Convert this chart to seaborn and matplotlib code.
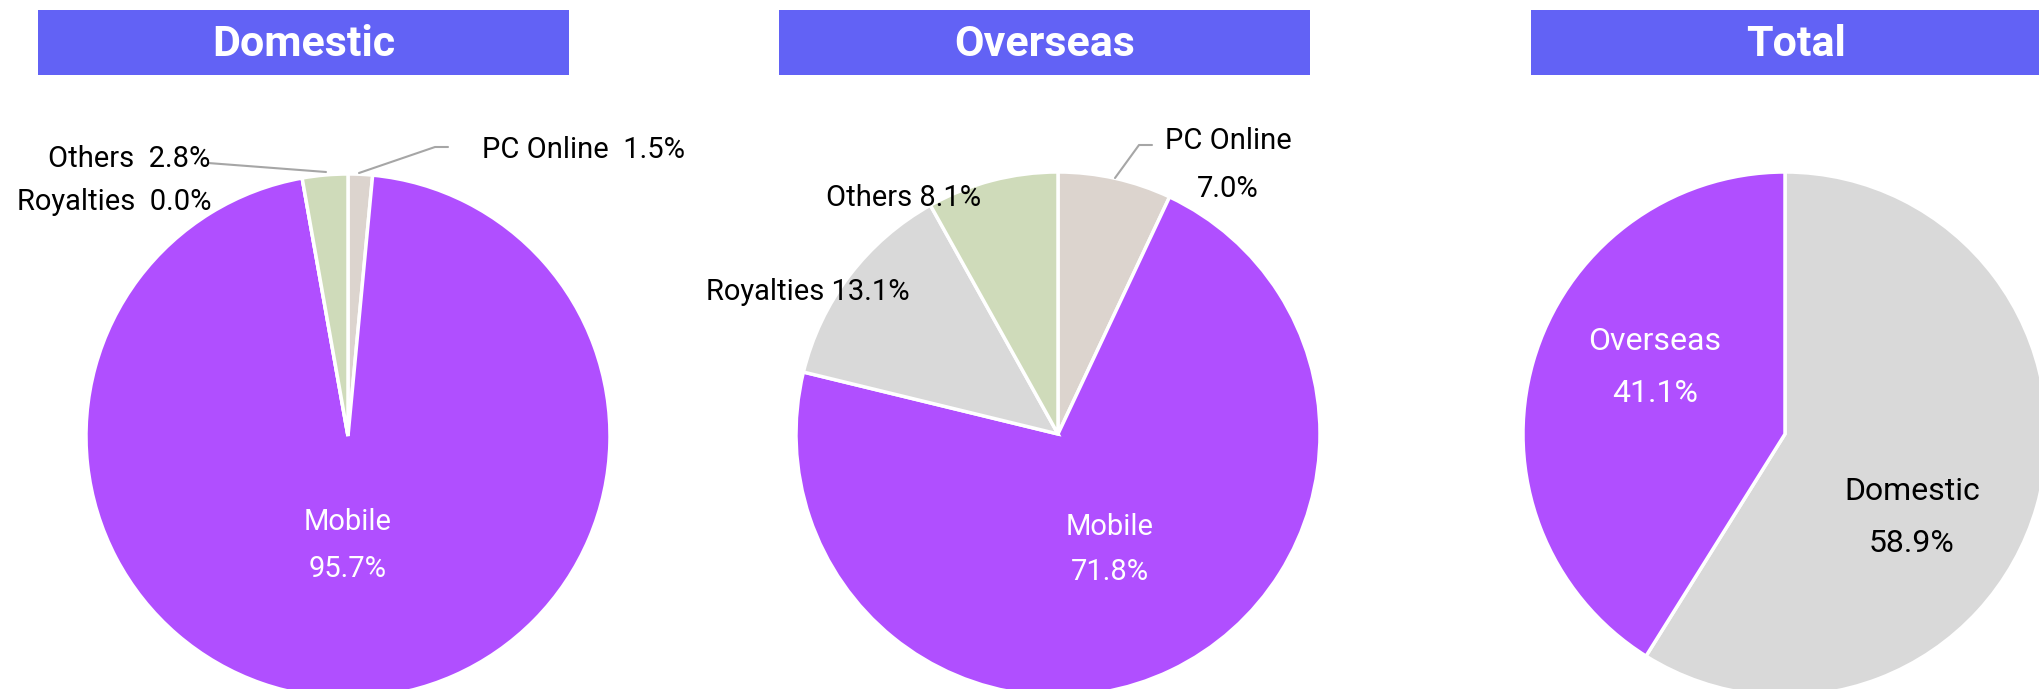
import matplotlib
matplotlib.use("Agg")
import matplotlib.pyplot as plt
import seaborn as sns
from matplotlib.patches import Rectangle

sns.set_theme(style="white")
plt.rcParams['font.family'] = ['Roboto', 'DejaVu Sans']

# ---------------- data ----------------
panel_titles = ["Domestic", "Overseas", "Total"]
segment_names = ["PC Online", "Mobile", "Royalties", "Others"]
domestic_values = [1.5, 95.7, 0.0, 2.8]
overseas_values = [7.0, 71.8, 13.1, 8.1]
total_names = ["Domestic", "Overseas"]
total_values = [58.9, 41.1]

# ---------------- style ----------------
PURPLE = "#B04FFF"
GRAY = "#D9D9D9"
GREEN = "#CFDBBA"
BEIGE = "#DCD4CE"
TITLE_BG = "#6262F5"
LEADER = "#A6A6A6"
seg_colors = sns.color_palette([BEIGE, PURPLE, GRAY, GREEN])
total_colors = sns.color_palette([GRAY, PURPLE])

NARROW = ['Roboto', 'DejaVu Sans']
WIDE = ['Roboto', 'DejaVu Sans']

W, H = 2040, 689
fig = plt.figure(figsize=(W / 100, H / 100), dpi=100)
fig.patch.set_facecolor("white")
ax = fig.add_axes([0, 0, 1, 1])


def P(x, y_top):
    return (x, H - y_top)


R = 262
centers = [P(348, 436), P(1058, 434), P(1785, 434)]
wp = dict(edgecolor="white", linewidth=2.5)

ax.pie(domestic_values, colors=seg_colors, startangle=90, counterclock=False,
       radius=R, center=centers[0], wedgeprops=wp, frame=True)
ax.pie(overseas_values, colors=seg_colors, startangle=90, counterclock=False,
       radius=R, center=centers[1], wedgeprops=wp, frame=True)
ax.pie(total_values, colors=total_colors, startangle=90, counterclock=False,
       radius=R, center=centers[2], wedgeprops=wp, frame=True)

ax.set_xlim(0, W)
ax.set_ylim(0, H)
ax.set_aspect("auto")
ax.set_axis_off()

# ---------------- title boxes ----------------
box_x = [38, 779, 1531]
box_w = 531
for x0, t in zip(box_x, panel_titles):
    ax.add_patch(Rectangle(P(x0, 75), box_w, 65, facecolor=TITLE_BG,
                           edgecolor="none", zorder=3))
    ax.text(*P(x0 + box_w / 2, 44), t, ha="center", va="center",
            color="white", fontsize=31, fontweight="bold", family=WIDE, zorder=4)

LFS = 21


def lab(name, v, sep="  "):
    return f"{name}{sep}{v:.1f}%"


# ---------------- Domestic labels ----------------
ax.text(*P(210, 159), lab(segment_names[3], domestic_values[3]), ha="right",
        va="center", fontsize=LFS, family=NARROW, color="black")
ax.text(*P(212, 202), lab(segment_names[2], domestic_values[2]), ha="right",
        va="center", fontsize=LFS, family=NARROW, color="black")
ax.text(*P(482, 150), lab(segment_names[0], domestic_values[0]), ha="left",
        va="center", fontsize=LFS, family=NARROW, color="black")
ax.plot(*zip(P(208, 163), P(326, 172)), color=LEADER, lw=1.5)
ax.plot(*zip(P(359, 173), P(435, 147), P(448, 147)), color=LEADER, lw=1.5)
ax.text(*P(348, 522), segment_names[1], ha="center", va="center",
        fontsize=LFS, family=NARROW, color="white")
ax.text(*P(348, 569), f"{domestic_values[1]:.1f}%", ha="center", va="center",
        fontsize=LFS, family=NARROW, color="white")

# ---------------- Overseas labels ----------------
ax.text(*P(1228, 141), segment_names[0], ha="center", va="center",
        fontsize=LFS, family=NARROW, color="black")
ax.text(*P(1228, 189), f"{overseas_values[0]:.1f}%", ha="center", va="center",
        fontsize=LFS, family=NARROW, color="black")
ax.plot(*zip(P(1115, 178), P(1139, 145), P(1152, 145)), color=LEADER, lw=1.5)
ax.text(*P(904, 198), lab(segment_names[3], overseas_values[3], " "),
        ha="center", va="center", fontsize=LFS, family=NARROW, color="black")
ax.text(*P(808, 292), lab(segment_names[2], overseas_values[2], " "),
        ha="center", va="center", fontsize=LFS, family=NARROW, color="black")
ax.text(*P(1110, 527), segment_names[1], ha="center", va="center",
        fontsize=LFS, family=NARROW, color="white")
ax.text(*P(1110, 572), f"{overseas_values[1]:.1f}%", ha="center", va="center",
        fontsize=LFS, family=NARROW, color="white")

# ---------------- Total labels ----------------
TFS = 23
ax.text(*P(1655, 341), total_names[1], ha="center", va="center",
        fontsize=TFS, family=WIDE, color="white")
ax.text(*P(1655, 393), f"{total_values[1]:.1f}%", ha="center", va="center",
        fontsize=TFS, family=WIDE, color="white")
ax.text(*P(1912, 492), total_names[0], ha="center", va="center",
        fontsize=TFS, family=WIDE, color="black")
ax.text(*P(1912, 544), f"{total_values[0]:.1f}%", ha="center", va="center",
        fontsize=TFS, family=WIDE, color="black")

fig.savefig("out.png", dpi=100, facecolor="white")
